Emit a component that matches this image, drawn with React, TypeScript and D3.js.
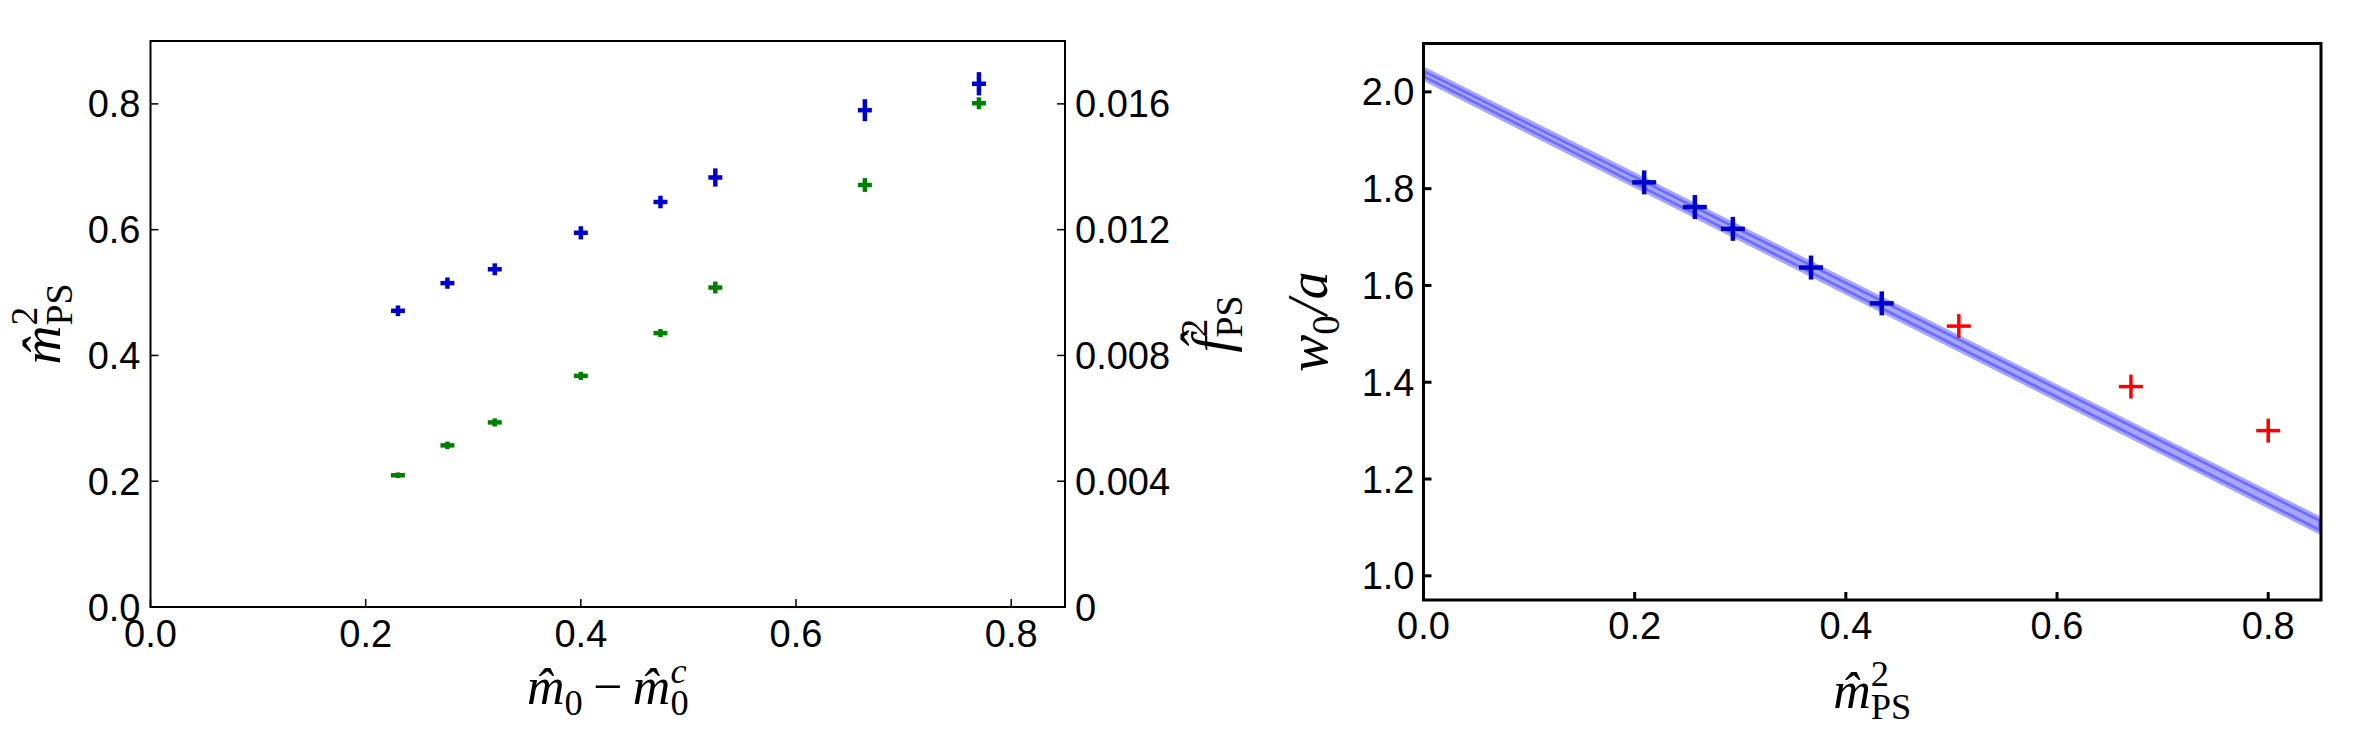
import React from 'react';
import * as d3 from 'd3';

// ---- left panel: m_PS^2 (left axis) and f_PS^2 (right axis) vs m0 - m0c
const m0Diff = [0.230, 0.276, 0.320, 0.400, 0.474, 0.525, 0.664, 0.770];
const m0DiffErr = [0.0065, 0.0065, 0.0065, 0.0065, 0.0065, 0.0065, 0.0065, 0.0065];
const mps2 = [0.471, 0.515, 0.537, 0.595, 0.644, 0.683, 0.790, 0.832];
const mps2Err = [0.0085, 0.009, 0.0095, 0.0105, 0.010, 0.0145, 0.0175, 0.0185];
const fps2 = [0.00419, 0.00514, 0.00587, 0.00735, 0.00871, 0.01016, 0.01342, 0.01602];
const fps2Err = [0.00009, 0.00012, 0.00013, 0.00013, 0.00013, 0.00019, 0.00022, 0.00019];

const leftXTicks = [0, 0.2, 0.4, 0.6, 0.8];
const leftYTicks = [0, 0.2, 0.4, 0.6, 0.8];
const leftY2Ticks = [0, 0.004, 0.008, 0.012, 0.016];
const leftY2Labels = ['0', '0.004', '0.008', '0.012', '0.016'];

// ---- right panel: w0/a vs m_PS^2
const mps2In = [0.209, 0.257, 0.293, 0.367, 0.434];
const w0In = [1.813, 1.762, 1.717, 1.637, 1.563];
const mps2Out = [0.507, 0.670, 0.800];
const w0Out = [1.516, 1.391, 1.300];
const bandX = [0, 0.85];
const bandLo = [2.0288, 1.0902];
const bandHi = [2.0462, 1.1158];

const rightXTicks = [0, 0.2, 0.4, 0.6, 0.8];
const rightYTicks = [1.0, 1.2, 1.4, 1.6, 1.8, 2.0];

const BLUE = '#0000cc';
const GREEN = '#008000';
const RED = '#ff0000';
const TICK_FONT = '"Liberation Sans", Arial, sans-serif';
const MATH_FONT = '"Liberation Serif", "Times New Roman", serif';

const fmt1 = d3.format('.1f');

// hatted letter with superscript 2 and subscript PS stacked
const HatPS = ({ letter, fs }: { letter: string; fs: number }) => (
  <>
    <tspan fontStyle="italic">{letter + '\u0302'}</tspan>
    <tspan fontSize={fs * 0.7} dy={-fs * 0.42}>2</tspan>
    <tspan fontSize={fs * 0.7} dx={-fs * 0.35} dy={fs * 0.64}>PS</tspan>
  </>
);

export default function App() {
  // left panel scales
  const lx = d3.scaleLinear().domain([0, 0.85]).range([150.5, 1065]);
  const ly = d3.scaleLinear().domain([0, 0.9]).range([607, 41]);
  const ly2 = d3.scaleLinear().domain([0, 0.018]).range([607, 41]);

  // right panel scales
  const rx = d3.scaleLinear().domain([0, 0.85]).range([1423.5, 2321]);
  const ry = d3.scaleLinear().domain([0.95, 2.1]).range([600, 43.5]);

  const band = d3.area<number>()
    .x((_, i) => rx(bandX[i]))
    .y0((_, i) => ry(bandLo[i]))
    .y1((_, i) => ry(bandHi[i]));

  const errPlus = (
    key: string, cx: number, cy: number, xe: number, ye: number, color: string,
  ) => (
    <g key={key} stroke={color} strokeWidth={4.5}>
      <line x1={cx - xe} x2={cx + xe} y1={cy} y2={cy} />
      <line x1={cx} x2={cx} y1={cy - Math.max(ye, 2.25)} y2={cy + Math.max(ye, 2.25)} />
    </g>
  );

  const plus = (key: string, cx: number, cy: number, color: string, sw: number) => (
    <g key={key} stroke={color} strokeWidth={sw}>
      <line x1={cx - 12} x2={cx + 12} y1={cy} y2={cy} />
      <line x1={cx} x2={cx} y1={cy - 12} y2={cy + 12} />
    </g>
  );

  const [lx0, lx1] = lx.range();
  const [ly1, ly0] = ly.range();
  const [rx0, rx1] = rx.range();
  const [ry1, ry0] = ry.range();

  const xfs = 52;
  const yfs = 54;

  return (
    <svg width={2355} height={741} style={{ position: 'absolute', left: 0, top: 0, background: '#fff' }}>
      <defs>
        <clipPath id="rclip">
          <rect x={rx0} y={ry0} width={rx1 - rx0} height={ry1 - ry0} />
        </clipPath>
      </defs>

      {/* ---------- LEFT PANEL ---------- */}
      <g>
        {m0Diff.map((x, i) =>
          errPlus('b' + i, lx(x), ly(mps2[i]), lx(x + m0DiffErr[i]) - lx(x), ly(0) - ly(mps2Err[i]), BLUE))}
        {m0Diff.map((x, i) =>
          errPlus('g' + i, lx(x), ly2(fps2[i]), lx(x + m0DiffErr[i]) - lx(x), ly2(0) - ly2(fps2Err[i]), GREEN))}

        <rect x={lx0} y={ly0} width={lx1 - lx0} height={ly1 - ly0} fill="none" stroke="#000" strokeWidth={2} />

        {leftXTicks.map(t => (
          <g key={'lxt' + t}>
            <line x1={lx(t)} x2={lx(t)} y1={ly1} y2={ly1 - 8} stroke="#000" strokeWidth={1.5} />
            <text x={lx(t)} y={ly1 + 40} textAnchor="middle" fontFamily={TICK_FONT} fontSize={38}>{fmt1(t)}</text>
          </g>
        ))}
        {leftYTicks.map(t => (
          <g key={'lyt' + t}>
            <line x1={lx0} x2={lx0 + 8} y1={ly(t)} y2={ly(t)} stroke="#000" strokeWidth={1.5} />
            <text x={lx0 - 10} y={ly(t) + 13.5} textAnchor="end" fontFamily={TICK_FONT} fontSize={38}>{fmt1(t)}</text>
          </g>
        ))}
        {leftY2Ticks.map((t, i) => (
          <g key={'ly2t' + t}>
            <line x1={lx1} x2={lx1 - 8} y1={ly2(t)} y2={ly2(t)} stroke="#000" strokeWidth={1.5} />
            <text x={lx1 + 10} y={ly2(t) + 13.5} textAnchor="start" fontFamily={TICK_FONT} fontSize={38}>{leftY2Labels[i]}</text>
          </g>
        ))}

        {/* x label */}
        <text x={(lx0 + lx1) / 2} y={704} textAnchor="middle" fontFamily={MATH_FONT} fontSize={xfs}>
          <tspan fontStyle="italic">{'m\u0302'}</tspan>
          <tspan fontSize={xfs * 0.7} dy={xfs * 0.22}>0</tspan>
          <tspan dy={-xfs * 0.22}>{'\u2009\u2212\u2009'}</tspan>
          <tspan fontStyle="italic">{'m\u0302'}</tspan>
          <tspan fontSize={xfs * 0.7} dy={xfs * 0.22}>0</tspan>
          <tspan fontSize={xfs * 0.7} fontStyle="italic" dx={-xfs * 0.35} dy={-xfs * 0.62}>c</tspan>
        </text>
        {/* left y label */}
        <text transform={`translate(60,${(ly0 + ly1) / 2}) rotate(-90)`} textAnchor="middle" fontFamily={MATH_FONT} fontSize={yfs}>
          <HatPS letter="m" fs={yfs} />
        </text>
        {/* right y label */}
        <text transform={`translate(1230,${(ly0 + ly1) / 2}) rotate(-90)`} textAnchor="middle" fontFamily={MATH_FONT} fontSize={yfs}>
          <HatPS letter="f" fs={yfs} />
        </text>
      </g>

      {/* ---------- RIGHT PANEL ---------- */}
      <g>
        <g clipPath="url(#rclip)">
          <path d={band(bandX) || ''} fill="#0000ff" fillOpacity={0.35} stroke="#0000ff" strokeOpacity={0.35} strokeWidth={5.5} />
        </g>
        {mps2In.map((x, i) => plus('rb' + i, rx(x), ry(w0In[i]), BLUE, 4.5))}
        {mps2Out.map((x, i) => plus('rr' + i, rx(x), ry(w0Out[i]), RED, 3.5))}

        <rect x={rx0} y={ry0} width={rx1 - rx0} height={ry1 - ry0} fill="none" stroke="#000" strokeWidth={3} />

        {rightXTicks.map(t => (
          <g key={'rxt' + t}>
            <line x1={rx(t)} x2={rx(t)} y1={ry1} y2={ry1 - 8} stroke="#000" strokeWidth={3} />
            <text x={rx(t)} y={ry1 + 39} textAnchor="middle" fontFamily={TICK_FONT} fontSize={38}>{fmt1(t)}</text>
          </g>
        ))}
        {rightYTicks.map(t => (
          <g key={'ryt' + t}>
            <line x1={rx0} x2={rx0 + 8} y1={ry(t)} y2={ry(t)} stroke="#000" strokeWidth={3} />
            <text x={rx0 - 9} y={ry(t) + 13.5} textAnchor="end" fontFamily={TICK_FONT} fontSize={38}>{fmt1(t)}</text>
          </g>
        ))}

        <text x={(rx0 + rx1) / 2} y={708} textAnchor="middle" fontFamily={MATH_FONT} fontSize={xfs}>
          <HatPS letter="m" fs={xfs} />
        </text>
        <text transform={`translate(1327,${(ry0 + ry1) / 2}) rotate(-90)`} textAnchor="middle" fontFamily={MATH_FONT} fontSize={56}>
          <tspan fontStyle="italic">w</tspan>
          <tspan fontSize={56 * 0.7} dy={12}>0</tspan>
          <tspan fontStyle="italic" dy={-12}>/a</tspan>
        </text>
      </g>
    </svg>
  );
}
